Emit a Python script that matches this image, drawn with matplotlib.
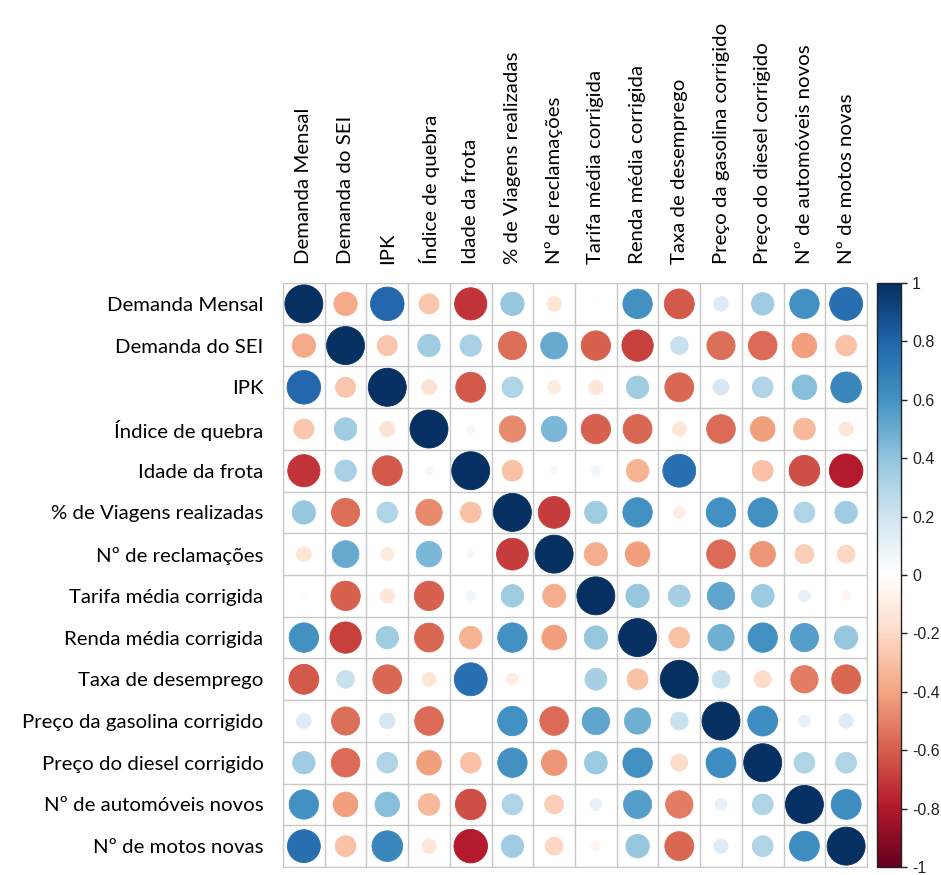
import numpy as np
import matplotlib
matplotlib.use('Agg')
import matplotlib.pyplot as plt
from matplotlib.patches import Circle
from matplotlib.colors import LinearSegmentedColormap, Normalize
from matplotlib.cm import ScalarMappable

# nomes das variáveis
variaveis = [
    'Demanda Mensal', 'Demanda do SEI', 'IPK', 'Índice de quebra',
    'Idade da frota', '% de Viagens realizadas', 'Nº de reclamações',
    'Tarifa média corrigida', 'Renda média corrigida', 'Taxa de desemprego',
    'Preço da gasolina corrigido', 'Preço do diesel corrigido',
    'Nº de automóveis novos', 'Nº de motos novas',
]

# matriz de correlação (linha a linha)
corr = np.array([
    [1.00, -0.38, 0.78, -0.28, -0.72, 0.38, -0.15, 0.01, 0.60, -0.62, 0.15, 0.35, 0.60, 0.75],
    [-0.38, 1.00, -0.28, 0.35, 0.32, -0.55, 0.50, -0.60, -0.68, 0.22, -0.55, -0.57, -0.42, -0.30],
    [0.78, -0.28, 1.00, -0.16, -0.62, 0.30, -0.12, -0.14, 0.35, -0.58, 0.17, 0.30, 0.42, 0.65],
    [-0.28, 0.35, -0.16, 1.00, 0.05, -0.48, 0.45, -0.60, -0.58, -0.14, -0.57, -0.42, -0.33, -0.14],
    [-0.72, 0.32, -0.62, 0.05, 1.00, -0.30, 0.04, 0.06, -0.35, 0.75, 0.01, -0.30, -0.65, -0.78],
    [0.38, -0.55, 0.30, -0.48, -0.30, 1.00, -0.70, 0.35, 0.60, -0.10, 0.60, 0.60, 0.30, 0.35],
    [-0.15, 0.50, -0.12, 0.45, 0.04, -0.70, 1.00, -0.37, -0.42, 0.00, -0.57, -0.45, -0.25, -0.22],
    [0.01, -0.60, -0.14, -0.60, 0.06, 0.35, -0.37, 1.00, 0.38, 0.33, 0.52, 0.36, 0.10, -0.06],
    [0.60, -0.68, 0.35, -0.58, -0.35, 0.60, -0.42, 0.38, 1.00, -0.30, 0.48, 0.60, 0.55, 0.38],
    [-0.62, 0.22, -0.58, -0.14, 0.75, -0.10, 0.00, 0.33, -0.30, 1.00, 0.22, -0.20, -0.52, -0.58],
    [0.15, -0.55, 0.17, -0.57, 0.01, 0.60, -0.57, 0.52, 0.48, 0.22, 1.00, 0.62, 0.10, 0.14],
    [0.35, -0.57, 0.30, -0.42, -0.30, 0.60, -0.45, 0.36, 0.60, -0.20, 0.62, 1.00, 0.30, 0.30],
    [0.60, -0.42, 0.42, -0.33, -0.65, 0.30, -0.25, 0.10, 0.55, -0.52, 0.10, 0.30, 1.00, 0.62],
    [0.75, -0.30, 0.65, -0.14, -0.78, 0.35, -0.22, -0.06, 0.38, -0.58, 0.14, 0.30, 0.62, 1.00],
])

ticks_cbar = [1, 0.8, 0.6, 0.4, 0.2, 0, -0.2, -0.4, -0.6, -0.8, -1]

# paleta RdBu do corrplot
cores = ['#67001F', '#B2182B', '#D6604D', '#F4A582', '#FDDBC7', '#FFFFFF',
         '#D1E5F0', '#92C5DE', '#4393C3', '#2166AC', '#053061']
cmap = LinearSegmentedColormap.from_list('rdbu_corrplot', cores, N=200)
norm = Normalize(vmin=-1, vmax=1)

fig = plt.figure(figsize=(9.41, 8.75), dpi=100)
W, H = 941, 875
ax = fig.add_axes([283 / W, (H - 867) / H, 584 / W, 584 / H])

n = len(variaveis)
for i in range(n):
    for j in range(n):
        r = corr[i, j]
        raio = 0.455 * np.sqrt(abs(r))
        cor = cmap(norm(r))
        ax.add_patch(Circle((j, i), raio, facecolor=cor, edgecolor=cor, lw=0.6))

# grade das células
for k in range(n + 1):
    ax.axhline(k - 0.5, color='#C8C8C8', lw=1, zorder=0)
    ax.axvline(k - 0.5, color='#C8C8C8', lw=1, zorder=0)

ax.set_xlim(-0.5, n - 0.5)
ax.set_ylim(n - 0.5, -0.5)
ax.set_aspect('auto')
for s in ax.spines.values():
    s.set_color('#C8C8C8')

fonte = ['Lato', 'DejaVu Sans']
ax.set_xticks(range(n))
ax.set_yticks(range(n))
ax.set_xticklabels(variaveis, rotation=90, fontsize=14.7, family=fonte)
ax.set_yticklabels(variaveis, fontsize=14.7, family=fonte)
ax.xaxis.tick_top()
ax.tick_params(length=0, pad=14)

# barra de cores
cax = fig.add_axes([877 / W, (H - 867) / H, 24 / W, 584 / H])
sm = ScalarMappable(norm=norm, cmap=cmap)
cb = fig.colorbar(sm, cax=cax)
cb.set_ticks(ticks_cbar)
cb.set_ticklabels([('%g' % t) for t in ticks_cbar])
cb.outline.set_edgecolor('#222222')
cb.outline.set_linewidth(1)
cax.tick_params(length=4, width=1, pad=4, labelsize=11.5, colors='#222222')
for lbl in cax.get_yticklabels():
    lbl.set_family('Liberation Sans')

fig.savefig('out.png', dpi=100, facecolor='white')
